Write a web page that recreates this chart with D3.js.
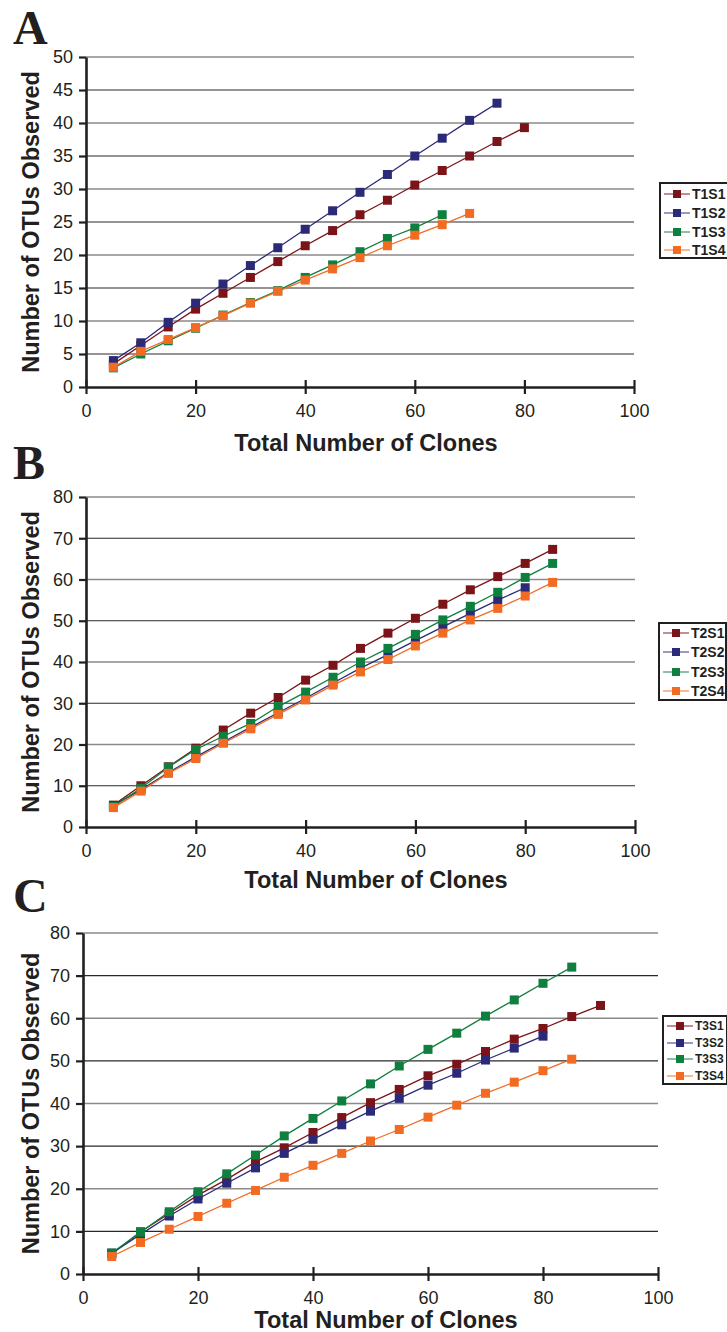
<!DOCTYPE html>
<html>
<head>
<meta charset="utf-8">
<script src="https://cdn.jsdelivr.net/npm/d3@7"></script>
<style>
  body { margin: 0; background: #fff; }
  text { font-family: "Liberation Sans", Arial, sans-serif; fill: #231f20; }
</style>
</head>
<body>
<script>
/* Clone counts (x values), shared by all series */
const clones = [5, 10, 15, 20, 25, 30, 35, 40, 45, 50, 55, 60, 65, 70, 75, 80, 85, 90];

/* Panel A */
const T1S1 = [3.5, 6.3, 9.1, 11.8, 14.2, 16.6, 19.0, 21.4, 23.7, 26.1, 28.3, 30.6, 32.8, 35.0, 37.2, 39.3];
const T1S2 = [4.0, 6.7, 9.8, 12.7, 15.6, 18.4, 21.1, 23.9, 26.7, 29.5, 32.2, 35.0, 37.7, 40.4, 43.0];
const T1S3 = [2.9, 5.0, 7.0, 8.9, 10.9, 12.8, 14.6, 16.6, 18.5, 20.5, 22.5, 24.1, 26.1];
const T1S4 = [3.0, 5.4, 7.2, 9.0, 10.8, 12.7, 14.5, 16.2, 17.9, 19.6, 21.4, 23.0, 24.6, 26.3];

/* Panel B */
const T2S1 = [5.3, 10.0, 14.6, 19.1, 23.5, 27.6, 31.4, 35.6, 39.2, 43.3, 47.0, 50.6, 54.0, 57.5, 60.7, 63.9, 67.3];
const T2S2 = [5.2, 9.0, 13.2, 17.0, 20.6, 24.2, 27.7, 31.2, 34.9, 38.5, 41.8, 45.2, 48.5, 51.8, 55.0, 58.0];
const T2S3 = [5.0, 9.4, 14.5, 18.8, 22.0, 25.1, 29.2, 32.7, 36.3, 40.0, 43.3, 46.7, 50.2, 53.5, 56.9, 60.5, 63.9];
const T2S4 = [4.7, 8.7, 13.0, 16.6, 20.3, 23.8, 27.3, 30.8, 34.4, 37.6, 40.6, 43.9, 47.0, 50.2, 53.0, 56.0, 59.3];

/* Panel C */
const T3S1 = [4.7, 9.9, 14.2, 18.5, 22.2, 26.3, 29.6, 33.2, 36.7, 40.2, 43.3, 46.5, 49.2, 52.2, 55.1, 57.6, 60.4, 63.0];
const T3S2 = [4.9, 9.3, 13.6, 17.6, 21.3, 24.9, 28.3, 31.6, 35.0, 38.2, 41.2, 44.3, 47.1, 50.2, 53.0, 55.8];
const T3S3 = [4.9, 9.8, 14.6, 19.3, 23.5, 27.9, 32.4, 36.5, 40.6, 44.6, 48.8, 52.7, 56.5, 60.5, 64.3, 68.2, 72.0];
const T3S4 = [4.1, 7.4, 10.5, 13.5, 16.6, 19.6, 22.7, 25.5, 28.3, 31.2, 33.9, 36.8, 39.6, 42.4, 45.0, 47.7, 50.4];

/* Tick labels */
const xTicks = [0, 20, 40, 60, 80, 100];
const yTicksA = [0, 5, 10, 15, 20, 25, 30, 35, 40, 45, 50];
const yTicksBC = [0, 10, 20, 30, 40, 50, 60, 70, 80];

const colors = ["#7b1418", "#2b2a78", "#0e7f3e", "#f26b23"];

const svg = d3.select("body")
              .append("svg")
              .attr("width", 727)
              .attr("height", 1332);

const drawPanel = (p) => {
    const xScale = d3.scaleLinear()
                     .domain([0, 100])
                     .range([p.left, p.right]);
    const yScale = d3.scaleLinear()
                     .domain([0, p.yTicks[p.yTicks.length - 1]])
                     .range([p.bottom, p.top]);

    const g = svg.append("g");

    /* gridlines */
    g.selectAll(".grid")
     .data(p.yTicks.filter((d) => d > 0))
     .enter()
     .append("line")
     .attr("x1", p.left)
     .attr("x2", p.right)
     .attr("y1", (d) => yScale(d))
     .attr("y2", (d) => yScale(d))
     .attr("stroke", (d, i) => i % 2 ? "#8a8a8a" : "#2a2a2a")
     .attr("stroke-width", (d, i) => i % 2 ? 1.6 : 1.1);

    /* axes */
    const yAxis = d3.axisLeft(yScale)
                    .tickValues(p.yTicks)
                    .tickSizeInner(7)
                    .tickSizeOuter(0)
                    .tickPadding(6);
    const xAxis = d3.axisBottom(xScale)
                    .tickValues(xTicks)
                    .tickSizeInner(7)
                    .tickSizeOuter(0)
                    .tickPadding(10);

    const gx = g.append("g")
                .attr("transform", "translate(0," + p.bottom + ")")
                .call(xAxis);
    gx.selectAll(".tick line").attr("y1", -7);

    const gy = g.append("g")
                .attr("transform", "translate(" + p.left + ",0)")
                .call(yAxis);

    [gx, gy].forEach((a) => {
        a.select(".domain").attr("stroke", "#231f20").attr("stroke-width", 2.6);
        a.selectAll(".tick line").attr("stroke", "#231f20").attr("stroke-width", 2.2);
        a.selectAll(".tick text")
         .style("font-family", "'Liberation Sans', Arial, sans-serif")
         .style("font-size", "18px")
         .attr("fill", "#231f20");
    });

    /* series lines and square markers */
    const line = d3.line()
                   .x((d) => xScale(d.x))
                   .y((d) => yScale(d.y));

    p.series.forEach((s, k) => {
        const pts = s.values.map((v, i) => ({ x: clones[i], y: v }));
        g.append("path")
         .datum(pts)
         .attr("d", line)
         .attr("fill", "none")
         .attr("stroke", colors[k])
         .attr("stroke-width", 1.3);
        g.selectAll(".m" + k)
         .data(pts)
         .enter()
         .append("rect")
         .attr("x", (d) => xScale(d.x) - 4.5)
         .attr("y", (d) => yScale(d.y) - 4.5)
         .attr("width", 9)
         .attr("height", 9)
         .attr("fill", colors[k]);
    });

    /* axis titles */
    g.append("text")
     .text("Total Number of Clones")
     .attr("x", p.xTitleX)
     .attr("y", p.xTitleY)
     .attr("text-anchor", "middle")
     .style("font-size", "23.5px")
     .style("font-weight", "bold");

    g.append("text")
     .text("Number of OTUs Observed")
     .attr("transform", "translate(39," + ((p.top + p.bottom) / 2) + ") rotate(-90)")
     .attr("text-anchor", "middle")
     .style("font-size", "23.5px")
     .style("font-weight", "bold");

    /* panel letter */
    g.append("text")
     .text(p.letter)
     .attr("x", 13)
     .attr("y", p.letterY)
     .style("font-family", "'Liberation Serif', 'Times New Roman', serif")
     .style("font-size", "48px")
     .style("font-weight", "bold");

    /* legend */
    const L = p.legend;
    g.append("rect")
     .attr("x", L.x)
     .attr("y", L.y)
     .attr("width", L.w)
     .attr("height", L.h)
     .attr("fill", "#fff")
     .attr("stroke", "#231f20")
     .attr("stroke-width", 2);

    p.series.forEach((s, k) => {
        const ly = L.rows[k];
        g.append("line")
         .attr("x1", L.x + 4)
         .attr("x2", L.x + 30)
         .attr("y1", ly)
         .attr("y2", ly)
         .attr("stroke", colors[k])
         .attr("stroke-opacity", 0.6)
         .attr("stroke-width", 1.6);
        g.append("rect")
         .attr("x", L.x + 17 - 4)
         .attr("y", ly - 4)
         .attr("width", 8)
         .attr("height", 8)
         .attr("fill", colors[k]);
        g.append("text")
         .text(s.name)
         .attr("x", L.x + 32)
         .attr("y", ly)
         .attr("dy", "0.36em")
         .style("font-size", L.font + "px")
         .style("font-weight", "bold");
    });
};

drawPanel({
    letter: "A", letterY: 44,
    left: 86, right: 634, top: 57, bottom: 387,
    yTicks: yTicksA,
    xTitleX: 366, xTitleY: 451,
    series: [{ name: "T1S1", values: T1S1 }, { name: "T1S2", values: T1S2 },
             { name: "T1S3", values: T1S3 }, { name: "T1S4", values: T1S4 }],
    legend: { x: 660, y: 183, w: 68, h: 75, rows: [194, 213, 232, 250], font: 14 }
});

drawPanel({
    letter: "B", letterY: 479,
    left: 86, right: 635, top: 497, bottom: 827,
    yTicks: yTicksBC,
    xTitleX: 376, xTitleY: 888,
    series: [{ name: "T2S1", values: T2S1 }, { name: "T2S2", values: T2S2 },
             { name: "T2S3", values: T2S3 }, { name: "T2S4", values: T2S4 }],
    legend: { x: 659, y: 623, w: 67, h: 77, rows: [633, 652, 672, 691], font: 14 }
});

drawPanel({
    letter: "C", letterY: 912,
    left: 83, right: 658, top: 933, bottom: 1274,
    yTicks: yTicksBC,
    xTitleX: 386, xTitleY: 1328,
    series: [{ name: "T3S1", values: T3S1 }, { name: "T3S2", values: T3S2 },
             { name: "T3S3", values: T3S3 }, { name: "T3S4", values: T3S4 }],
    legend: { x: 663, y: 1016, w: 64, h: 68, rows: [1026, 1043, 1059, 1076], font: 12 }
});
</script>
</body>
</html>
